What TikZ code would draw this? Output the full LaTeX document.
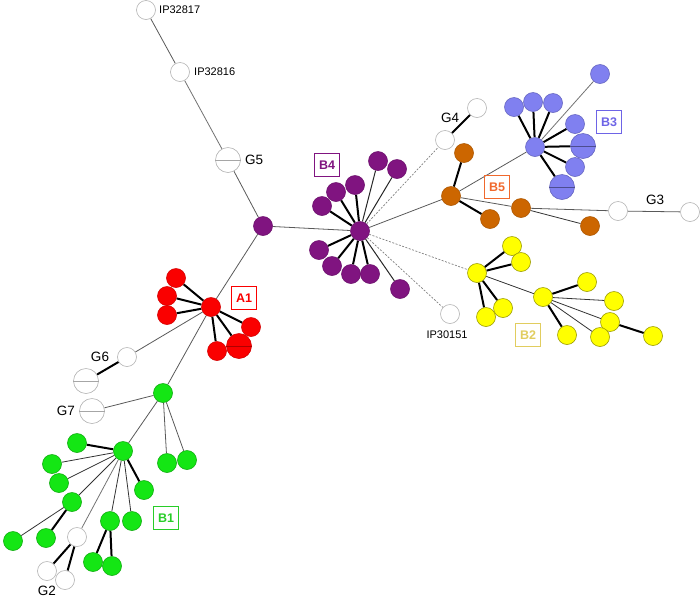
\documentclass[tikz,border=0pt]{standalone}
\usepackage{fontspec}
\setmainfont{Liberation Sans}
\usetikzlibrary{backgrounds}
\definecolor{cpu}{RGB}{128,20,128}
\definecolor{cre}{RGB}{250,0,0}
\definecolor{cgr}{RGB}{20,230,20}
\definecolor{cor}{RGB}{204,102,0}
\definecolor{cbl}{RGB}{128,128,240}
\definecolor{cye}{RGB}{255,255,0}
\definecolor{lgr}{RGB}{40,205,40}
\definecolor{lye}{RGB}{225,205,95}
\definecolor{lbl}{RGB}{110,100,230}
\definecolor{lor}{RGB}{240,105,45}
\tikzset{
  nd/.style={circle, minimum size=19pt, inner sep=0pt, line width=0.6pt},
  bignd/.style={nd, minimum size=25pt},
  wh/.style={nd, draw=gray!60, fill=white},
  pu/.style={nd, fill=cpu, draw=cpu!85!black},
  re/.style={nd, fill=cre, draw=cre!85!black},
  gr/.style={nd, fill=cgr, draw=cgr!75!black},
  or/.style={nd, fill=cor, draw=cor!85!black},
  bl/.style={nd, fill=cbl, draw=cbl!80!black},
  ye/.style={nd, fill=cye, draw=cye!60!black},
  lnk/.style={draw=black!65, line width=0.8pt},
  thk/.style={draw=black, line width=2pt},
  dotl/.style={draw=gray, dash pattern=on 2pt off 1.5pt, line width=0.7pt},
  iplab/.style={font=\fontsize{11}{13}\selectfont, inner sep=0pt},
  glab/.style={font=\fontsize{13.5}{15}\selectfont, inner sep=0pt},
  bx/.style={draw, line width=1pt, font=\bfseries\fontsize{12.5}{14}\selectfont, minimum width=25pt, minimum height=23pt, inner sep=0pt},
  hl/.style={line width=0.6pt}
}
\begin{document}
\begin{tikzpicture}[x=1pt,y=-1pt]
\useasboundingbox (0,0) rectangle (700,598);
% white nodes
\node[wh] (ip17) at (146,10) {};
\node[wh] (ip16) at (180,72) {};
\node[wh,bignd] (g5) at (228,160) {};
\node[wh] (g4a) at (445,140) {};
\node[wh] (g4b) at (477,108) {};
\node[wh] (g3a) at (618,211) {};
\node[wh] (g3b) at (690,212) {};
\node[wh] (ip51) at (450,314) {};
\node[wh] (g6a) at (127,357) {};
\node[wh,bignd] (g6b) at (86,381) {};
\node[wh,bignd] (g7) at (92,411) {};
\node[wh] (g2h) at (77,537) {};
\node[wh] (g2a) at (47,571) {};
\node[wh] (g2b) at (65,580) {};
% purple
\node[pu] (p0) at (263,226) {};
\node[pu] (b4) at (360,231) {};
\node[pu] (b4a) at (378,161) {};
\node[pu] (b4b) at (397,169) {};
\node[pu] (b4c) at (355,185) {};
\node[pu] (b4d) at (336,192) {};
\node[pu] (b4e) at (322,206) {};
\node[pu] (b4f) at (319,250) {};
\node[pu] (b4g) at (332,266) {};
\node[pu] (b4h) at (351,274) {};
\node[pu] (b4i) at (370,274) {};
\node[pu] (b4j) at (400,289) {};
% red
\node[re] (a1) at (211,307) {};
\node[re] (a1a) at (176,278) {};
\node[re] (a1b) at (167,296) {};
\node[re] (a1c) at (167,315) {};
\node[re] (a1d) at (251,327) {};
\node[re,bignd] (a1e) at (239,346) {};
\node[re] (a1f) at (217,351) {};
% green
\node[gr] (b1h) at (163,393) {};
\node[gr] (b1a) at (167,463) {};
\node[gr] (b1b) at (187,460) {};
\node[gr] (b1c) at (123,451) {};
\node[gr] (b1d) at (77,443) {};
\node[gr] (b1e) at (52,464) {};
\node[gr] (b1f) at (59,483) {};
\node[gr] (b1g) at (72,502) {};
\node[gr] (b1g1) at (13,541) {};
\node[gr] (b1g2) at (46,538) {};
\node[gr] (b1i) at (110,521) {};
\node[gr] (b1i1) at (93,562) {};
\node[gr] (b1i2) at (112,566) {};
\node[gr] (b1j) at (132,521) {};
\node[gr] (b1k) at (144,490) {};
% orange
\node[or] (b5) at (451,196) {};
\node[or] (b5a) at (464,153) {};
\node[or] (b5b) at (490,219) {};
\node[or] (b5c) at (521,208) {};
\node[or] (b5d) at (590,226) {};
% blue
\node[bl] (b3) at (535,147) {};
\node[bl] (b3a) at (600,74) {};
\node[bl] (b3b) at (514,107) {};
\node[bl] (b3c) at (533,102) {};
\node[bl] (b3d) at (553,103) {};
\node[bl] (b3e) at (575,124) {};
\node[bl,bignd] (b3f) at (583,146) {};
\node[bl] (b3g) at (575,167) {};
\node[bl,bignd] (b3h) at (562,187) {};
% yellow
\node[ye] (b2) at (477,273) {};
\node[ye] (b2a) at (512,246) {};
\node[ye] (b2b) at (521,262) {};
\node[ye] (b2c) at (486,317) {};
\node[ye] (b2d) at (503,308) {};
\node[ye] (b2h) at (543,297) {};
\node[ye] (b2e) at (587,282) {};
\node[ye] (b2f) at (614,301) {};
\node[ye] (b2g) at (610,322) {};
\node[ye] (b2g1) at (653,336) {};
\node[ye] (b2i) at (600,337) {};
\node[ye] (b2j) at (567,335) {};
% lines across big nodes
\draw[hl,gray!70] (g5.west) -- (g5.east);
\draw[hl,gray!70] (g6b.west) -- (g6b.east);
\draw[hl,gray!70] (g7.west) -- (g7.east);
\draw[hl,cre!70!black] (a1e.west) -- (a1e.east);
\draw[hl,cbl!60!black] (b3f.west) -- (b3f.east);
\draw[hl,cbl!60!black] (b3h.west) -- (b3h.east);
% labels
\node[iplab, anchor=west] (t17) at (159,10) {IP32817};
\node[iplab, anchor=west] (t16) at (194,72) {IP32816};
\node[iplab] (t51) at (447,335) {IP30151};
\node[glab, anchor=west] (tg5) at (245,160) {G5};
\node[glab] (tg4) at (450,118) {G4};
\node[glab] (tg3) at (655,200) {G3};
\node[glab] (tg6) at (100,357) {G6};
\node[glab] (tg7) at (66,411) {G7};
\node[glab] (tg2) at (47,591) {G2};
\node[bx, draw=cpu, text=cpu] (lb4) at (327,165) {B4};
\node[bx, draw=cre, text=cre] (la1) at (244,298) {A1};
\node[bx, draw=lbl, text=lbl] (lb3) at (609,122) {B3};
\node[bx, draw=lor, text=lor] (lb5) at (497,187) {B5};
\node[bx, draw=lye, text=lye] (lb2) at (528,335) {B2};
\node[bx, draw=lgr, text=lgr] (lb1) at (166,518) {B1};
% edges
\begin{scope}[on background layer]
\draw[lnk] (ip17) -- (ip16);
\draw[lnk,draw=black!55] (ip16) -- (g5);
\draw[lnk] (g5) -- (p0);
\draw[lnk] (p0) -- (b4);
\draw[lnk] (p0) -- (a1);
\draw[lnk] (a1) -- (g6a);
\draw[thk] (g6a) -- (g6b);
\draw[lnk] (a1) -- (b1h);
\foreach \n in {a1a,a1b,a1c,a1d,a1e,a1f} \draw[thk] (a1) -- (\n);
% B4
\foreach \n in {b4a,b4b,b4j} \draw[lnk,draw=black!85,line width=1pt] (b4) -- (\n);
\foreach \n in {b4c,b4d,b4e,b4f,b4g,b4h,b4i} \draw[thk] (b4) -- (\n);
\draw[dotl] (b4) -- (g4a);
\draw[dotl] (b4) -- (b2);
\draw[dotl] (b4) -- (ip51);
\draw[thk] (g4a) -- (g4b);
% B5
\draw[lnk] (b4) -- (b5);
\draw[thk] (b5) -- (b5a);
\draw[thk] (b5) -- (b5b);
\draw[lnk] (b5) -- (b5c);
\draw[lnk,draw=black!80] (b5c) -- (b5d);
\draw[lnk] (b5c) -- (g3a);
\draw[lnk] (g3a) -- (g3b);
% B3
\draw[lnk] (b5) -- (b3);
\draw[lnk,draw=black!55] (b3) -- (b3a);
\foreach \n in {b3b,b3c,b3d,b3e,b3f,b3g,b3h} \draw[thk] (b3) -- (\n);
% B2
\foreach \n in {b2a,b2b,b2c,b2d} \draw[thk] (b2) -- (\n);
\draw[lnk,draw=black!80] (b2) -- (b2h);
\draw[thk] (b2h) -- (b2e);
\draw[lnk,draw=black!80] (b2h) -- (b2f);
\draw[lnk,draw=black!80] (b2h) -- (b2g);
\draw[lnk,draw=black!80] (b2h) -- (b2i);
\draw[thk] (b2h) -- (b2j);
\draw[thk] (b2g) -- (b2g1);
% B1
\draw[lnk] (b1h) -- (g7);
\draw[lnk] (b1h) -- (b1c);
\draw[lnk] (b1h) -- (b1a);
\draw[lnk] (b1h) -- (b1b);
\draw[thk] (b1c) -- (b1d);
\foreach \n in {b1e,b1f,b1g,b1i,b1j} \draw[lnk,draw=black!80] (b1c) -- (\n);
\draw[lnk,draw=black!55] (b1c) -- (g2h);
\draw[thk] (b1c) -- (b1k);
\draw[lnk,draw=black!80] (b1g) -- (b1g1);
\draw[thk] (b1g) -- (b1g2);
\draw[thk] (g2h) -- (g2a);
\draw[thk] (g2h) -- (g2b);
\draw[thk] (b1i) -- (b1i1);
\draw[thk] (b1i) -- (b1i2);
\end{scope}
\end{tikzpicture}
\end{document}
